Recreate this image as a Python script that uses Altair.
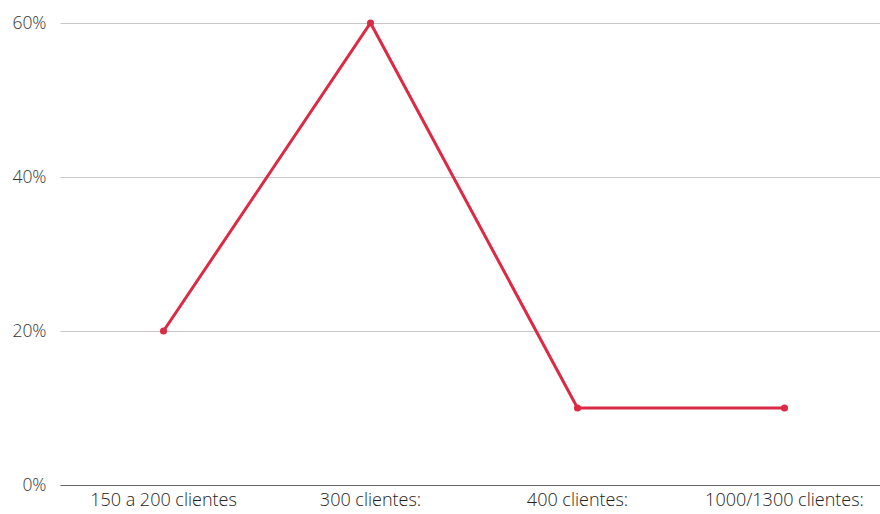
import altair as alt
import pandas as pd

categories = ["150 a 200 clientes", "300 clientes:", "400 clientes:", "1000/1300 clientes:"]
values = [0.20, 0.60, 0.10, 0.10]

df = pd.DataFrame({"cat": categories, "val": values})

x = alt.X("cat:N", sort=categories, title=None,
          scale=alt.Scale(type="band", range=[0, 828], paddingInner=0, paddingOuter=0),
          axis=alt.Axis(labelAngle=0, ticks=False, grid=False, domain=True, domainColor="#666666",
                        labelFont="Open Sans", labelFontSize=18, labelFontWeight=300,
                        labelColor="#222222", labelPadding=6))
y = alt.Y("val:Q", title=None,
          scale=alt.Scale(domain=[0, 0.6], nice=False),
          axis=alt.Axis(format=".0%", values=[0, 0.2, 0.4, 0.6], ticks=False, domain=False,
                        gridColor="#c8c8c8", gridWidth=1, labelFont="Open Sans", labelFontSize=17.5,
                        labelFontWeight=300, labelColor="#333333", labelPadding=14))

line = alt.Chart(df).mark_line(color="#dc2a44", strokeWidth=3).encode(x=x, y=y)
pts = alt.Chart(df).mark_point(color="#dc2a44", filled=True, size=50, opacity=1).encode(x=x, y=y)

chart = (line + pts).properties(
    width=820, height=462,
    autosize=alt.AutoSizeParams(type="none"),
    padding={"left": 60, "top": 23, "right": 0, "bottom": 29},
).configure_view(stroke=None)

chart.save("out.html", embed_options={"renderer": "svg", "actions": False})
